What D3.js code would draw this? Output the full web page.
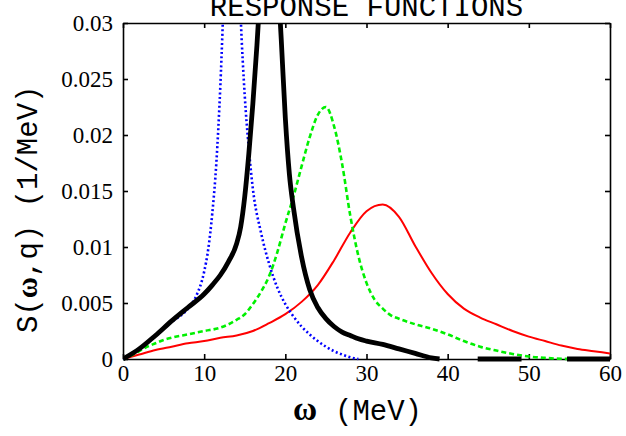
<!DOCTYPE html>
<html>
<head>
<meta charset="utf-8">
<script src="https://cdn.jsdelivr.net/npm/d3@7"></script>
<style>
  body { margin: 0; background: #fff; }
  .domain, .tick line { stroke: #000; stroke-width: 1.6; }
</style>
</head>
<body>
<div id="chart"></div>
<script>
// Response functions S(w,q)

let xTicks = [0, 10, 20, 30, 40, 50, 60];
let yTicks = [0, 0.005, 0.01, 0.015, 0.02, 0.025, 0.03];
let yLabels = ["0", "0.005", "0.01", "0.015", "0.02", "0.025", "0.03"];

// blue dotted
let blueW = [0, 2, 4, 6, 8, 9, 10, 10.5, 11, 11.5, 12, 12.5, 13, 13.5, 14, 14.5, 15, 15.5, 16,
             17, 18, 19, 20, 21, 22, 23, 24, 25, 26, 27, 28, 29];
let blueS = [0, 0.0009, 0.0021, 0.0033, 0.0045, 0.0056, 0.0078, 0.0098, 0.0130, 0.0175, 0.0245,
             0.034, 0.043, 0.047, 0.041, 0.0305, 0.0235, 0.0188, 0.0152,
             0.0113, 0.0085, 0.0064, 0.0049, 0.0038, 0.0029, 0.0022, 0.0016, 0.0011, 0.0007, 0.0004, 0.00015, 0];

// black thick (gaps where it dips below zero)
let blackW = [0, 2, 4, 6, 8, 10, 11, 12, 13, 14, 14.5, 15, 15.5, 16, 16.5, 17, 17.5, 18, 18.5, 19, 19.5,
              20, 20.5, 21, 22, 23, 24, 25, 26, 27, 28, 29, 30, 32, 34, 36, 38, 39,
              40, 43.7, 46, 49.1, 50, 54.7, 57, 60];
let blackS = [0, 0.0009, 0.0021, 0.0034, 0.0046, 0.0058, 0.0066, 0.0075, 0.0087, 0.0103, 0.0118, 0.0145,
              0.0183, 0.0228, 0.028, 0.034, 0.040, 0.043, 0.041, 0.035, 0.0285,
              0.0215, 0.0165, 0.0135, 0.0091, 0.0062, 0.0046, 0.0036, 0.0029, 0.0024, 0.0021, 0.0018, 0.0016,
              0.0013, 0.0009, 0.0005, 0.0001, 0,
              null, 0, 0, 0, null, 0, 0, 0];

// green dashed
let greenW = [0, 1, 2, 3, 4, 5, 6, 8, 10, 12, 13, 14, 15, 16, 17, 18, 19, 20, 21, 22, 23, 24, 25, 26,
              27, 28, 29, 30, 31, 32, 33, 34, 36, 38, 40, 42, 44, 46, 48, 50, 52, 54, 56, 58, 60];
let greenS = [0, 0.0003, 0.0007, 0.0011, 0.0014, 0.0017, 0.0019, 0.0022, 0.0025, 0.0028, 0.0031, 0.0035,
              0.004, 0.0049, 0.006, 0.0074, 0.0095, 0.0121, 0.0145, 0.0172, 0.0198, 0.0218, 0.0225, 0.0208,
              0.0174, 0.0128, 0.0092, 0.0068, 0.0053, 0.0045, 0.0039, 0.0036, 0.0031, 0.0027, 0.0022, 0.0016,
              0.0011, 0.00075, 0.00045, 0.00022, 0.0001, 0.00002, 0, 0, 0];

// red solid
let redW = [0, 2, 4, 6, 8, 10, 12, 14, 16, 18, 20, 22, 24, 26, 28, 30, 32, 34, 36, 38, 40,
            42, 44, 46, 48, 50, 52, 54, 56, 58, 60];
let redS = [0, 0.0004, 0.0008, 0.0011, 0.0014, 0.0016, 0.0019, 0.0021, 0.0025, 0.0032, 0.004, 0.0051,
            0.0066, 0.0088, 0.0113, 0.0132, 0.0138, 0.0127, 0.0101, 0.0077, 0.0058,
            0.0045, 0.0037, 0.0031, 0.0025, 0.002, 0.0016, 0.0012, 0.0009, 0.0007, 0.0005];

let serif = "Liberation Serif";
let mono = "Liberation Mono";

let margin = {top: 23, right: 16, bottom: 77, left: 123},
    width = 626 - margin.left - margin.right,
    height = 436 - margin.top - margin.bottom;

let svg = d3.select("#chart").append("svg")
    .attr("width", 626)
    .attr("height", 436)
    .style("display", "block");

let g = svg.append("g")
    .attr("transform", "translate(" + margin.left + "," + margin.top + ")");

let x = d3.scaleLinear().domain([0, 60]).range([0, width]);
let y = d3.scaleLinear().domain([0, 0.03]).range([height, 0]);

// axes, ticks pointing inward
let xAxis = g.append("g")
    .attr("transform", "translate(0," + height + ")")
    .call(d3.axisBottom(x).tickValues(xTicks).tickFormat(d3.format("d"))
        .tickSizeInner(-5).tickSizeOuter(0).tickPadding(6));
g.append("g")
    .call(d3.axisTop(x).tickValues(xTicks).tickFormat("")
        .tickSizeInner(-5).tickSizeOuter(0));
let yAxis = g.append("g")
    .call(d3.axisLeft(y).tickValues(yTicks).tickFormat(function(d, i) { return yLabels[i]; })
        .tickSizeInner(-5).tickSizeOuter(0).tickPadding(10));
g.append("g")
    .attr("transform", "translate(" + width + ",0)")
    .call(d3.axisRight(y).tickValues(yTicks).tickFormat("")
        .tickSizeInner(-5).tickSizeOuter(0));

[xAxis, yAxis].forEach(function(a) {
    a.selectAll("text")
        .style("font-family", serif)
        .style("font-size", "23px")
        .style("fill", "#000");
});

// clip curves to the frame (a little room below for the thick line at zero)
svg.append("defs").append("clipPath").attr("id", "plot-clip")
    .append("rect").attr("x", 0).attr("y", 0).attr("width", width).attr("height", height + 3);

let line = d3.line()
    .defined(function(d) { return d.s !== null; })
    .x(function(d) { return x(d.w); })
    .y(function(d) { return y(d.s); })
    .curve(d3.curveMonotoneX);

function pairs(ws, ss) {
    return ws.map(function(w, i) { return {w: w, s: ss[i]}; });
}

let series = [
    {data: pairs(redW, redS), color: "#ff0000", width: 2, dash: null},
    {data: pairs(greenW, greenS), color: "#00f000", width: 2.6, dash: "5,3"},
    {data: pairs(blueW, blueS), color: "#0000ff", width: 2.6, dash: "2,2.5"},
    {data: pairs(blackW, blackS), color: "#000000", width: 4.8, dash: null}
];

let curves = g.append("g").attr("clip-path", "url(#plot-clip)");
series.forEach(function(sr) {
    curves.append("path")
        .datum(sr.data)
        .attr("fill", "none")
        .attr("stroke", sr.color)
        .attr("stroke-width", sr.width)
        .attr("stroke-dasharray", sr.dash)
        .attr("d", line);
});

// title (its top is cut by the page edge, as in the original)
svg.append("text")
    .attr("x", margin.left + width / 2)
    .attr("y", 16)
    .attr("text-anchor", "middle")
    .style("font-family", mono)
    .style("font-size", "29px")
    .text("RESPONSE FUNCTIONS");

// y label
let yl = svg.append("text")
    .attr("transform", "translate(37,333) rotate(-90)")
    .style("font-family", mono)
    .style("font-size", "29px");
yl.append("tspan").text("S(");
yl.append("tspan").style("font-family", serif).style("font-weight", "bold").text("ω");
yl.append("tspan").text(",q)  (1/MeV)");

// x label
let xl = svg.append("text")
    .attr("x", 293)
    .attr("y", 420);
xl.append("tspan")
    .style("font-family", serif)
    .style("font-weight", "bold")
    .style("font-size", "33px")
    .text("ω");
xl.append("tspan")
    .attr("x", 335)
    .style("font-family", mono)
    .style("font-size", "29px")
    .text("(MeV)");
</script>
</body>
</html>
